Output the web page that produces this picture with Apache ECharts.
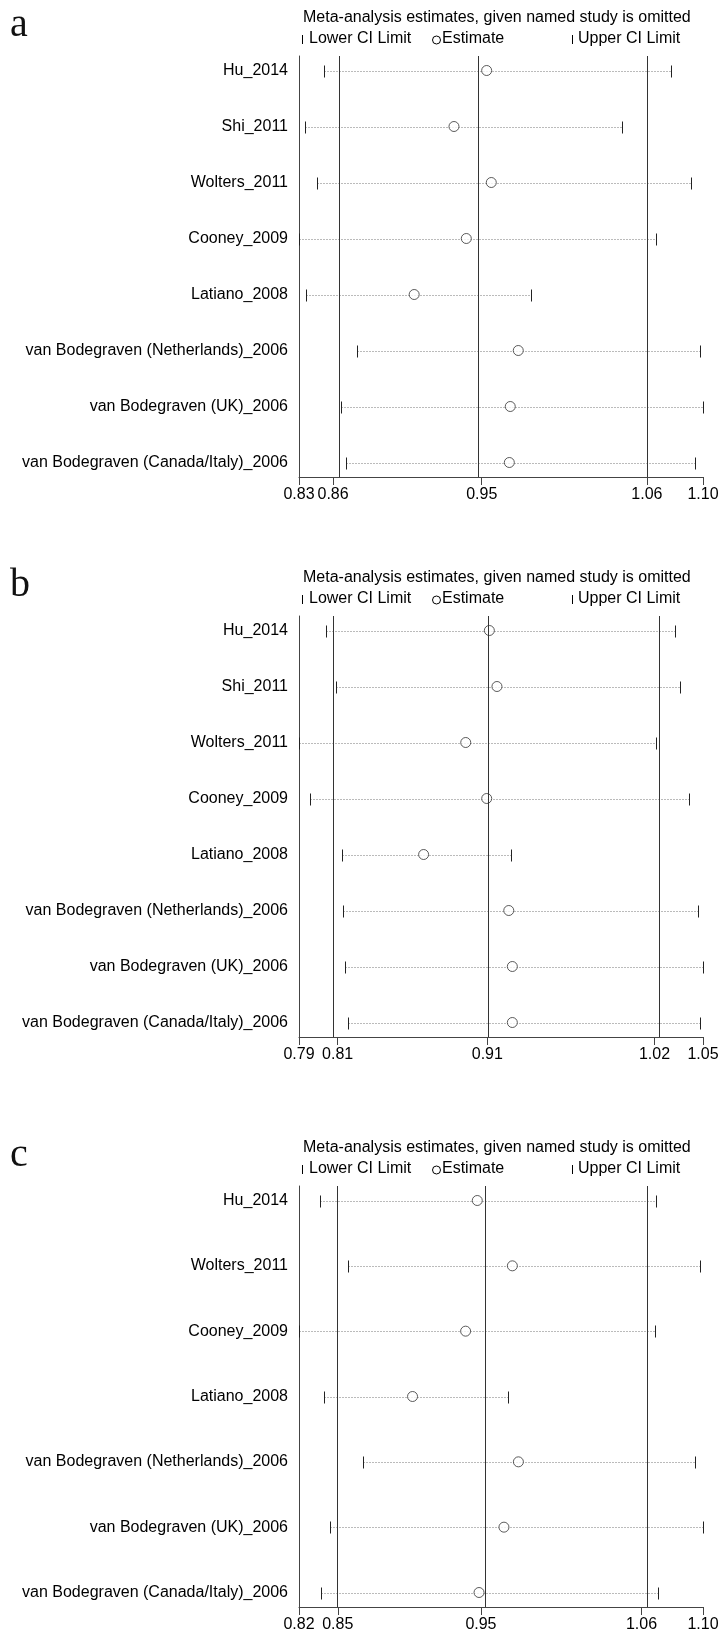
<!DOCTYPE html>
<html>
<head>
<meta charset="utf-8">
<script src="https://cdn.jsdelivr.net/npm/echarts@6/dist/echarts.min.js"></script>
<style>
html,body{margin:0;padding:0;background:#fff;}
#main{width:724px;height:1635px;}
</style>
</head>
<body>
<div id="main"></div>
<script>
// ---------- Panel a ----------
const studiesA = ["Hu_2014","Shi_2011","Wolters_2011","Cooney_2009","Latiano_2008","van Bodegraven (Netherlands)_2006","van Bodegraven (UK)_2006","van Bodegraven (Canada/Italy)_2006"];
const estA   = [0.9557,0.9345,0.9587,0.9425,0.9087,0.9762,0.9710,0.9704];
const lowerA = [0.8502,0.8379,0.8457,0.8340,0.8385,0.8719,0.8613,0.8648];
const upperA = [1.0750,1.0434,1.0882,1.0657,0.9847,1.0938,1.0960,1.0910];
const tickValsA   = [0.834,0.8561,0.9525,1.0596,1.096];
const tickLabelsA = ["0.83","0.86","0.95","1.06","1.10"];

// ---------- Panel b ----------
const studiesB = ["Hu_2014","Shi_2011","Wolters_2011","Cooney_2009","Latiano_2008","van Bodegraven (Netherlands)_2006","van Bodegraven (UK)_2006","van Bodegraven (Canada/Italy)_2006"];
const estB   = [0.9105,0.9154,0.8953,0.9088,0.8682,0.9230,0.9253,0.9253];
const lowerB = [0.8052,0.8118,0.7880,0.7953,0.8157,0.8166,0.8173,0.8196];
const upperB = [1.0300,1.0332,1.0177,1.0387,0.9243,1.0445,1.0480,1.0458];
const tickValsB   = [0.788,0.8129,0.9092,1.0168,1.048];
const tickLabelsB = ["0.79","0.81","0.91","1.02","1.05"];

// ---------- Panel c ----------
const studiesC = ["Hu_2014","Wolters_2011","Cooney_2009","Latiano_2008","van Bodegraven (Netherlands)_2006","van Bodegraven (UK)_2006","van Bodegraven (Canada/Italy)_2006"];
const estC   = [0.9449,0.9687,0.9370,0.9010,0.9728,0.9630,0.9461];
const lowerC = [0.8383,0.8569,0.8240,0.8410,0.8671,0.8453,0.8387];
const upperC = [1.0663,1.0957,1.0656,0.9660,1.0923,1.0980,1.0678];
const tickValsC   = [0.824,0.8503,0.9474,1.0563,1.098];
const tickLabelsC = ["0.82","0.85","0.95","1.06","1.10"];

const panelLetters = ["a","b","c"];
const titleText = "Meta-analysis estimates, given named study is omitted";
const legendTexts = ["Lower CI Limit","Estimate","Upper CI Limit"];

const panels = [
  {studies:studiesA, est:estA, lower:lowerA, upper:upperA, ticks:tickValsA, labels:tickLabelsA, top:56},
  {studies:studiesB, est:estB, lower:lowerB, upper:upperB, ticks:tickValsB, labels:tickLabelsB, top:616},
  {studies:studiesC, est:estC, lower:lowerC, upper:upperC, ticks:tickValsC, labels:tickLabelsC, top:1186}
];

const FONT = "'Liberation Sans', Arial, Helvetica, sans-serif";
const GRID_LEFT = 299, GRID_W = 404, GRID_H = 421, PAD = 14.5;
const AX = '#444';

const grids = [], xAxes = [], yAxes = [], series = [], graphics = [];

panels.forEach((p, i) => {
  const n = p.studies.length;
  const unit = (GRID_H - 2 * PAD) / (n - 1);
  grids.push({left: GRID_LEFT, top: p.top, width: GRID_W, height: GRID_H, containLabel: false});
  const ticks = p.ticks, labels = p.labels;
  xAxes.push({
    gridIndex: i, type: 'value', position: 'bottom', min: ticks[0], max: ticks[ticks.length - 1],
    axisLine: {show: true, onZero: false, lineStyle: {color: AX, width: 1}},
    axisTick: {show: true, length: 8, inside: false, customValues: ticks, lineStyle: {color: AX}},
    axisLabel: {
      show: true, customValues: ticks, margin: 10, fontSize: 16, fontFamily: FONT, color: '#000',
      showMinLabel: true, showMaxLabel: true, hideOverlap: false,
      formatter: function (v) {
        let k = 0, best = Infinity;
        ticks.forEach((t, j) => { const d = Math.abs(t - v); if (d < best) { best = d; k = j; } });
        return labels[k];
      }
    },
    splitLine: {show: false}
  });
  const idx = p.studies.map((s, j) => j);
  yAxes.push({
    gridIndex: i, type: 'value', inverse: true, position: 'left',
    min: -PAD / unit, max: (n - 1) + PAD / unit,
    axisLine: {show: true, onZero: false, lineStyle: {color: AX, width: 1}},
    axisTick: {show: false},
    splitLine: {show: false},
    axisLabel: {
      show: true, customValues: idx, margin: 11, fontSize: 16, fontFamily: FONT, color: '#000',
      showMinLabel: true, showMaxLabel: true,
      formatter: function (v) { return p.studies[Math.round(v)] || ''; }
    }
  });

  // CI lines with lower/upper limit marks
  series.push({
    type: 'custom', xAxisIndex: i, yAxisIndex: i, z: 2, clip: false, silent: true,
    data: p.studies.map((s, j) => [p.lower[j], p.upper[j], j]),
    encode: {x: [0, 1], y: 2},
    renderItem: function (params, api) {
      const yv = api.value(2);
      const a = api.coord([api.value(0), yv]);
      const b = api.coord([api.value(1), yv]);
      const y = Math.round(a[1]) + 0.5;
      const xa = Math.round(a[0]) + 0.5, xb = Math.round(b[0]) + 0.5;
      return {type: 'group', children: [
        {type: 'line', shape: {x1: xa, y1: y, x2: xb, y2: y}, style: {stroke: '#777', lineWidth: 1, lineDash: [1, 2]}},
        {type: 'line', shape: {x1: xa, y1: y - 6, x2: xa, y2: y + 6}, style: {stroke: '#222', lineWidth: 1}},
        {type: 'line', shape: {x1: xb, y1: y - 6, x2: xb, y2: y + 6}, style: {stroke: '#222', lineWidth: 1}}
      ]};
    }
  });

  // Estimates + overall reference lines
  series.push({
    type: 'scatter', xAxisIndex: i, yAxisIndex: i, z: 3, silent: true,
    symbol: 'circle', symbolSize: 10,
    itemStyle: {color: '#fff', borderColor: '#333', borderWidth: 1},
    data: p.studies.map((s, j) => [p.est[j], j]),
    markLine: {
      silent: true, symbol: ['none', 'none'], animation: false,
      label: {show: false},
      lineStyle: {color: '#333', width: 1, type: 'solid'},
      data: ticks.slice(1, ticks.length - 1).map(v => ({xAxis: v}))
    }
  });

  // Title, legend, panel letter
  const titleY = p.top - 38;
  const legY = p.top - 17;
  graphics.push({type: 'text', x: 10, y: titleY + 7, style: {text: panelLetters[i], fontSize: 40, fontFamily: "'Liberation Serif', 'DejaVu Serif', serif", fill: '#111', verticalAlign: 'middle', align: 'left'}});
  graphics.push({type: 'text', x: 303, y: titleY, style: {text: titleText, fontSize: 16, fontFamily: FONT, fill: '#000', verticalAlign: 'middle', align: 'left'}});
  graphics.push({type: 'line', shape: {x1: 302.5, y1: legY - 4, x2: 302.5, y2: legY + 5}, style: {stroke: '#000', lineWidth: 1}});
  graphics.push({type: 'text', x: 309, y: legY, style: {text: legendTexts[0], fontSize: 16, fontFamily: FONT, fill: '#000', verticalAlign: 'middle', align: 'left'}});
  graphics.push({type: 'circle', shape: {cx: 436.5, cy: legY + 1, r: 4}, style: {stroke: '#000', fill: 'none', lineWidth: 1}});
  graphics.push({type: 'text', x: 442, y: legY, style: {text: legendTexts[1], fontSize: 16, fontFamily: FONT, fill: '#000', verticalAlign: 'middle', align: 'left'}});
  graphics.push({type: 'line', shape: {x1: 572.5, y1: legY - 4, x2: 572.5, y2: legY + 5}, style: {stroke: '#000', lineWidth: 1}});
  graphics.push({type: 'text', x: 578, y: legY, style: {text: legendTexts[2], fontSize: 16, fontFamily: FONT, fill: '#000', verticalAlign: 'middle', align: 'left'}});
});

const chart = echarts.init(document.getElementById('main'), null, {renderer: 'canvas'});
chart.setOption({
  animation: false,
  backgroundColor: '#fff',
  grid: grids,
  xAxis: xAxes,
  yAxis: yAxes,
  series: series,
  graphic: graphics
});
</script>
</body>
</html>
